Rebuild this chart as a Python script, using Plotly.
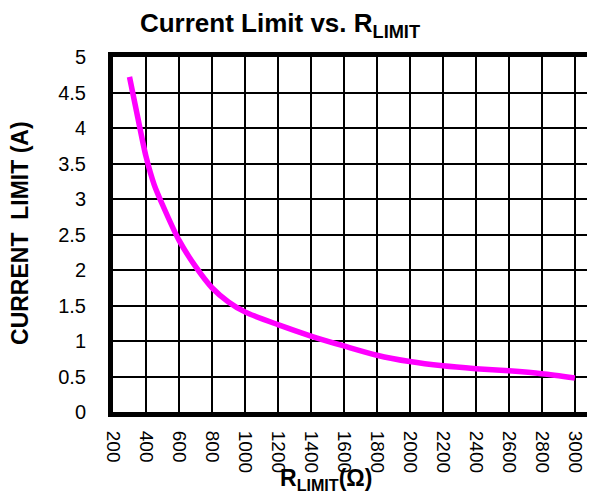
import plotly.graph_objects as go

r_limit = [300, 350, 400, 450, 500, 600, 700, 800, 900, 1000, 1200, 1400, 1600, 1800, 2000, 2200, 2400, 2600, 2800, 3000]
current_limit = [4.72, 4.15, 3.6, 3.2, 2.92, 2.42, 2.05, 1.75, 1.55, 1.41, 1.23, 1.07, 0.93, 0.80, 0.71, 0.65, 0.61, 0.58, 0.54, 0.48]

x_ticks = list(range(200, 3001, 200))
y_ticks = [i * 0.5 for i in range(11)]
y_tick_text = ["0", "0.5", "1", "1.5", "2", "2.5", "3", "3.5", "4", "4.5", "5"]

# page has an 8px body margin, so the figure is 8px smaller than the window
W, H = 587, 488
L, R, T, B = 105, 2, 49, 84
PW, PH = W - L - R, H - T - B

fig = go.Figure()
fig.add_trace(go.Scatter(
    x=r_limit, y=current_limit, mode="lines",
    line=dict(color="#ff00ff", width=5.5, shape="spline", smoothing=0.8),
    showlegend=False, hoverinfo="skip",
))

font_family = "Liberation Sans, Arial, sans-serif"

fig.update_layout(
    width=W, height=H,
    margin=dict(l=L, r=R, t=T, b=B),
    paper_bgcolor="white", plot_bgcolor="white",
    font=dict(family=font_family, color="black"),
    title=dict(text="<b>Current Limit vs. R<sub>LIMIT</sub></b>",
               x=272 / W, xanchor="center", xref="container",
               y=1 - 15 / H, yanchor="middle", yref="container",
               font=dict(size=26, family=font_family, color="black")),
)

fig.update_xaxes(
    range=[200, 3080], tickvals=x_ticks, ticktext=[str(v) for v in x_ticks],
    tickangle=90, tickfont=dict(size=19, family=font_family),
    showgrid=True, gridcolor="black", gridwidth=2,
    showline=True, linecolor="black", linewidth=5, mirror=True,
    ticks="", zeroline=False, ticklabelstandoff=10,
)
fig.update_yaxes(
    range=[0, 5], tickvals=y_ticks, ticktext=y_tick_text,
    tickfont=dict(size=20, family=font_family),
    showgrid=True, gridcolor="black", gridwidth=2,
    showline=True, linecolor="black", linewidth=5, mirror=True,
    ticks="", zeroline=False, ticklabelstandoff=18,
)

fig.add_annotation(
    text="<b>CURRENT  LIMIT (A)</b>", textangle=-90,
    xref="paper", yref="paper", x=(11 - L) / PW, y=(H - B - 225) / PH,
    xanchor="center", yanchor="middle", showarrow=False,
    font=dict(size=23, family=font_family, color="black"),
)
fig.add_annotation(
    text="<b>R<sub>LIMIT</sub>(Ω)</b>",
    xref="paper", yref="paper", x=(320 - L) / PW, y=-(471 - (H - B)) / PH,
    xanchor="center", yanchor="middle", showarrow=False,
    font=dict(size=23, family=font_family, color="black"),
)

fig.write_html("out.html")
